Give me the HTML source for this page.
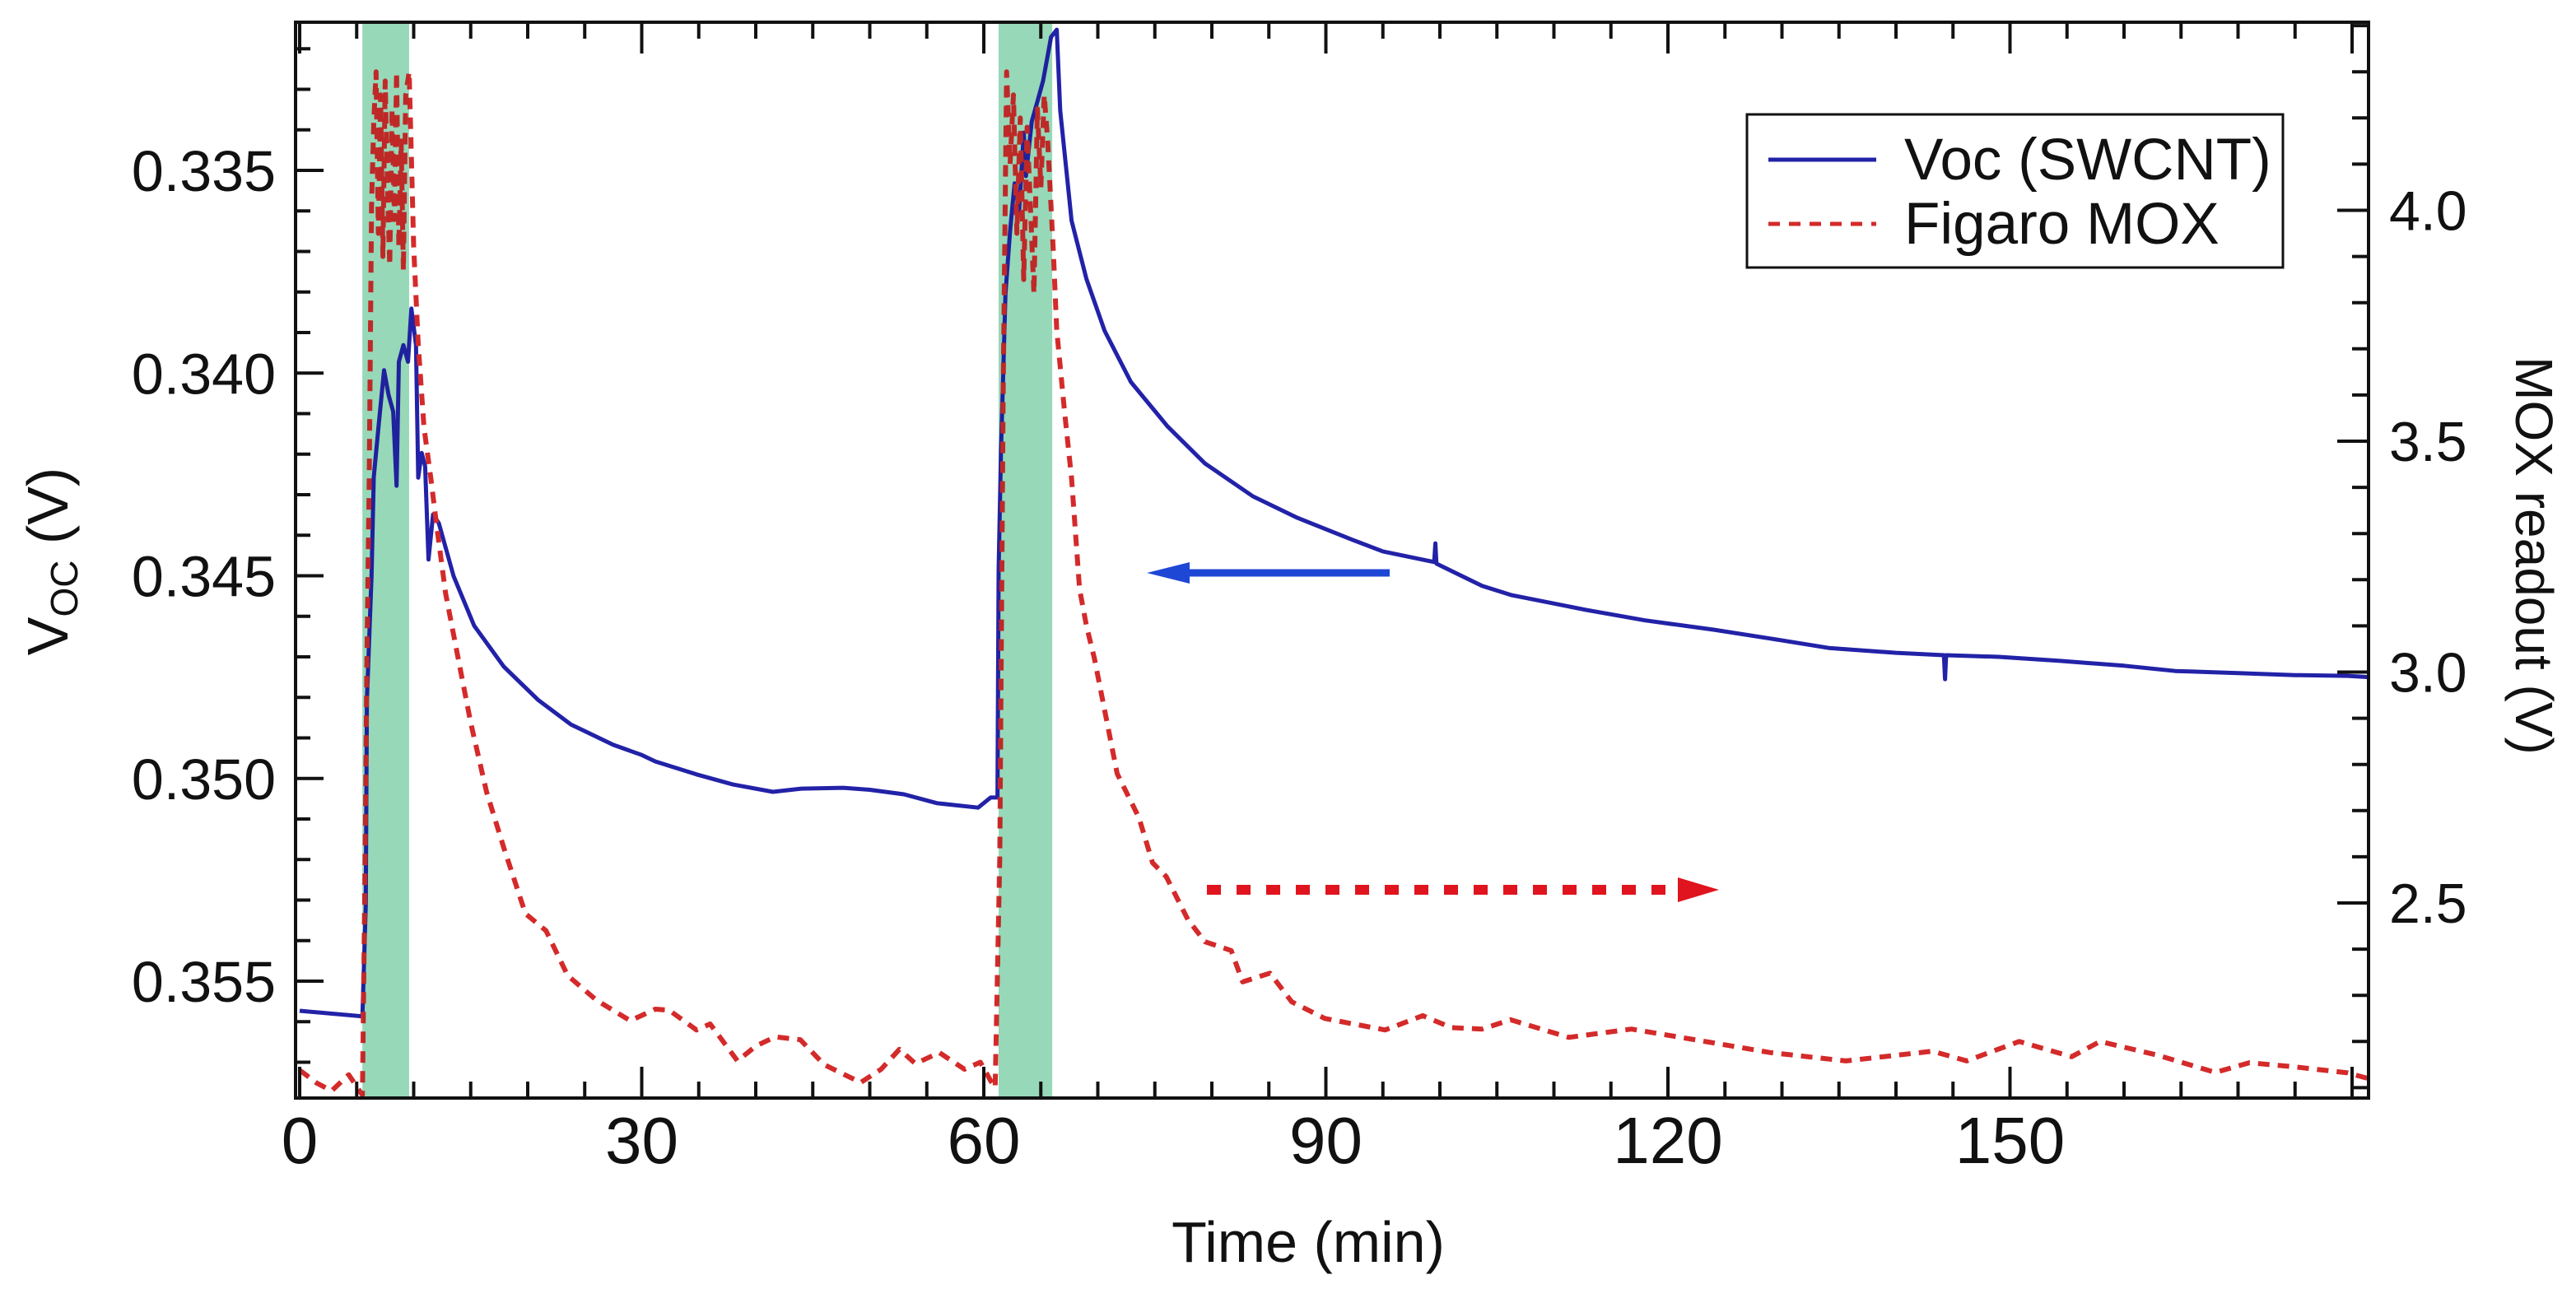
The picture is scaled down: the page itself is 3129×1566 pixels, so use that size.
<!DOCTYPE html>
<html><head><meta charset="utf-8">
<style>
html,body{margin:0;padding:0;background:#fff;}
svg{display:block;font-family:"Liberation Sans",Arial,sans-serif;}
</style></head>
<body>
<svg id="chart" width="3129" height="1566" viewBox="0 0 3129 1566" xmlns="http://www.w3.org/2000/svg">
<defs><clipPath id="plotclip"><rect x="359" y="27" width="2516" height="1306"/></clipPath></defs>
<g id="bands"></g>
<g id="series" clip-path="url(#plotclip)"></g>
<g id="bandsTop"></g>
<g id="axes"></g>
<rect x="359" y="27" width="2518" height="1307" fill="none" stroke="#111" stroke-width="4"/>
<g>
<line x1="1688" y1="696" x2="1430" y2="696" stroke="#1f47d6" stroke-width="9"/>
<polygon points="1393,696 1445,683 1445,709" fill="#1f47d6"/>
</g>
<g>
<line x1="1466" y1="1081" x2="2040" y2="1081" stroke="#e0141e" stroke-width="12" stroke-dasharray="17 19"/>
<polygon points="2088,1081 2038,1066 2038,1096" fill="#e0141e"/>
</g>
<g>
<rect x="2122" y="139" width="651" height="186" fill="#fff" stroke="#111" stroke-width="3"/>
<line x1="2148" y1="194" x2="2279" y2="194" stroke="#2222a8" stroke-width="5"/>
<text x="2313" y="218" font-size="71" fill="#111">Voc (SWCNT)</text>
<line x1="2148" y1="272" x2="2279" y2="272" stroke="#d42a2a" stroke-width="5" stroke-dasharray="14 11"/>
<text x="2313" y="296" font-size="71" fill="#111">Figaro MOX</text>
</g>
<text x="1589" y="1533" font-size="70" text-anchor="middle" fill="#111">Time (min)</text>
<text transform="translate(82,682) rotate(-90)" font-size="70" text-anchor="middle" fill="#111">V<tspan font-size="46" dy="12">OC</tspan><tspan dy="-12"> (V)</tspan></text>
<text transform="translate(3056,675) rotate(90)" font-size="64" text-anchor="middle" fill="#111">MOX readout (V)</text>
</svg>
<script>
const bandStart = [5.5, 61.3];
const bandEnd = [9.6, 66.0];
const xTicksMajor = [0, 30, 60, 90, 120, 150];
const leftTicks = [0.335, 0.340, 0.345, 0.350, 0.355];
const leftTickLabels = ["0.335", "0.340", "0.345", "0.350", "0.355"];
const rightTicks = [2.5, 3.0, 3.5, 4.0];
const rightTickLabels = ["2.5", "3.0", "3.5", "4.0"];
const blueT = [0,5.5,5.8,5.9,6.3,6.5,6.9,7.4,7.8,8.2,8.5,8.7,9.1,9.5,9.8,10.2,10.4,10.7,11.0,11.3,11.7,12.2,13.5,15.3,17.9,20.9,23.8,27.5,30.0,31.2,34.8,38,41.5,44,47.7,50,53,55.9,59.5,60.6,61.2,61.3,61.5,61.9,62.3,62.7,63.1,63.5,63.7,64.2,64.7,65.2,65.9,66.4,66.7,67.7,69,70.6,72.9,76.1,79.4,83.6,87.5,92.4,95,99.5,99.6,99.7,103.7,106.3,112.8,118,124,129,134.1,140,144.2,144.3,144.4,149,154.4,160,164.5,170,175,179.6,181.4];
const blueV = [0.35573,0.35587,0.35313,0.34806,0.34501,0.34257,0.34136,0.33993,0.34054,0.34095,0.34278,0.33972,0.33931,0.33972,0.33841,0.33931,0.34258,0.34197,0.34230,0.34460,0.34349,0.34370,0.34501,0.34623,0.34724,0.34806,0.34867,0.34917,0.34942,0.34958,0.3499,0.35015,0.35033,0.35025,0.35023,0.35028,0.35039,0.35061,0.35072,0.35047,0.35047,0.34485,0.34200,0.33805,0.33650,0.33532,0.33600,0.33407,0.33514,0.33380,0.33330,0.33279,0.33171,0.33153,0.33352,0.33624,0.33768,0.33896,0.34022,0.34131,0.34223,0.34304,0.34357,0.34412,0.34440,0.34466,0.34420,0.34470,0.34525,0.34548,0.34584,0.34610,0.34633,0.34655,0.34678,0.34690,0.34696,0.34755,0.34696,0.34700,0.3471,0.34722,0.34735,0.34740,0.34745,0.34747,0.34750];
const redT = [0,1.5,2.8,4.3,5.5,5.7,5.9,6.1,6.3,6.5,6.7,6.9,7.1,7.3,7.5,7.7,7.9,8.1,8.3,8.5,8.7,8.9,9.1,9.3,9.6,10.0,10.4,10.9,11.5,12.0,12.8,13.9,15.0,16.4,17.9,19.8,21.6,23.5,26.0,29.0,31.2,32.4,34.8,36,38.4,40,41.7,43.9,46,49.2,51,52.6,54,56.1,58.3,59.7,60.6,61.0,61.4,61.7,62.0,62.3,62.6,62.9,63.2,63.5,63.8,64.1,64.4,64.7,65.0,65.3,65.6,66.1,66.4,67.1,67.7,68.4,69.0,69.7,71.7,73.6,74.8,76,77.9,79.4,81.7,82.7,85.1,87,89.9,92,95.2,98.5,101,103.7,106.2,111.3,116.8,124,129,135.6,143.2,146.2,150.8,155.4,157.9,163,168,171,175,179.6,181.4];
const redV = [2.138,2.11,2.093,2.128,2.084,2.495,3.03,3.42,4.01,4.19,4.30,3.95,4.25,3.90,4.28,4.05,3.88,4.22,3.98,4.30,3.92,4.15,3.87,4.25,4.30,3.92,3.71,3.53,3.42,3.32,3.17,3.03,2.89,2.74,2.62,2.477,2.44,2.343,2.29,2.245,2.27,2.268,2.225,2.238,2.158,2.19,2.21,2.204,2.15,2.111,2.14,2.183,2.152,2.176,2.14,2.155,2.115,2.10,2.6,3.6,4.30,4.10,4.25,3.95,4.20,3.85,4.18,4.00,3.82,4.22,4.05,4.25,4.15,3.91,3.74,3.56,3.42,3.18,3.10,3.03,2.78,2.685,2.587,2.557,2.464,2.416,2.397,2.329,2.348,2.286,2.25,2.24,2.225,2.256,2.23,2.227,2.247,2.209,2.227,2.197,2.176,2.158,2.179,2.158,2.20,2.167,2.20,2.17,2.133,2.154,2.145,2.132,2.12];

const X0 = 364, XS = 13.85;
const PL = 359, PR = 2877, PT = 27, PB = 1334;
function xs(t){ return X0 + t*XS; }
function yl(v){ return 207 + (v-0.335)*49250; }
function yr(v){ return 1097 - (v-2.5)*561; }
const NS = "http://www.w3.org/2000/svg";
function mk(tag, attrs, parent){ const e=document.createElementNS(NS,tag); for(const k in attrs) e.setAttribute(k, attrs[k]); parent.appendChild(e); return e; }

const bandsG = document.getElementById('bands');
const bandsTop = document.getElementById('bandsTop');
for (let i=0;i<bandStart.length;i++){
  const r = mk('rect',{x:xs(bandStart[i]),y:PT,width:xs(bandEnd[i])-xs(bandStart[i]),height:PB-PT,fill:'#a8e0c5'},bandsG);
  
  
  const r2 = mk('rect',{x:xs(bandStart[i]),y:PT,width:xs(bandEnd[i])-xs(bandStart[i]),height:PB-PT,fill:'#a8e0c5',style:'mix-blend-mode:multiply',opacity:'0.3'},bandsTop);
  
  
}

const sg = document.getElementById('series');
let dBlue = blueT.map((t,i)=>(i?'L':'M')+xs(t).toFixed(1)+','+yl(blueV[i]).toFixed(1)).join(' ');
const pb = mk('path',{d:dBlue,fill:'none',stroke:'#2222a8','stroke-width':5,'stroke-linejoin':'round'},sg);


let dRed = redT.map((t,i)=>(i?'L':'M')+xs(t).toFixed(1)+','+yr(redV[i]).toFixed(1)).join(' ');
const pr = mk('path',{d:dRed,fill:'none',stroke:'#d42a2a','stroke-width':6,'stroke-dasharray':'14 10','stroke-linejoin':'round'},sg);



const ag = document.getElementById('axes');
for (let t=0; t<=180; t+=5){
  const major = (t%30===0);
  const L = major?38:20;
  const x = xs(t);
  const tb = mk('line',{x1:x,y1:PB,x2:x,y2:PB-L,stroke:'#111','stroke-width':4},ag);
  
  
  const tt = mk('line',{x1:x,y1:PT,x2:x,y2:PT+L,stroke:'#111','stroke-width':4},ag);
  
  
}
xTicksMajor.forEach(t=>{
  const tx = mk('text',{x:xs(t),y:1413,'font-size':80,'text-anchor':'middle',fill:'#111'},ag);
  
  
  tx.textContent = String(t);
});
for (let k=332; k<=357; k++){
  const v = k/1000; const y = yl(v);
  if (y<PT+2 || y>PB-2) continue;
  const major = (k%5===0);
  const tl = mk('line',{x1:PL,y1:y,x2:PL+(major?34:18),y2:y,stroke:'#111','stroke-width':4},ag);
  
  
}
leftTicks.forEach((v,i)=>{
  const tx = mk('text',{x:335,y:yl(v)+25,'font-size':70,'text-anchor':'end',fill:'#111'},ag);
  
  
  tx.textContent = leftTickLabels[i];
});
for (let k=21; k<=44; k++){
  const v = k/10; const y = yr(v);
  if (y<PT+2 || y>PB-2) continue;
  const major = (k%5===0);
  const tr = mk('line',{x1:PR,y1:y,x2:PR-(major?38:20),y2:y,stroke:'#111','stroke-width':4},ag);
  
  
}
rightTicks.forEach((v,i)=>{
  const tx = mk('text',{x:2902,y:yr(v)+24,'font-size':68,'text-anchor':'start',fill:'#111'},ag);
  
  
  tx.textContent = rightTickLabels[i];
});
</script>
</body></html>
